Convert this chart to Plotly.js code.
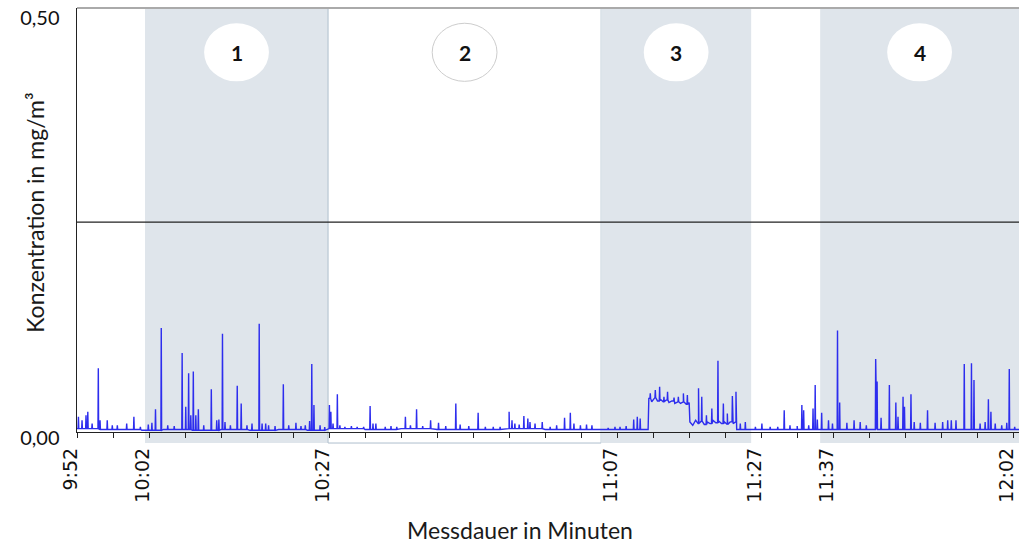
<!DOCTYPE html>
<html>
<head>
<meta charset="utf-8">
<script src="https://cdn.plot.ly/plotly-3.0.1.min.js"></script>
<style>html,body{margin:0;padding:0;background:#fff;}#chart{width:1019px;height:545px;}</style>
</head>
<body>
<div id="chart"></div>
<script>
// Minutes after 9:52 (Messdauer)
const tickTimes  = [0,5,10,15,20,25,30,35,40,45,50,55,60,65,70,75,80,85,90,95,100,105,110,115,120,125,130];
const tickLabels = ["9:52","","10:02","","","","","10:27","","","","","","","","11:07","","","","11:27","","11:37","","","","","12:02"];

// Phase boundaries (minutes) and labels
const phaseStart = [9.44, 34.86, 72.78, 103.19];
const phaseEnd   = [34.86, 72.78, 93.61, 130.8];
const phaseNames = ["1","2","3","4"];
const phaseShaded = [true, false, true, true];

// Baseline readings (minutes, mg/m3)
const baseT = [0,3,6,9,12,16,20,24,28,32,35,40,45,50,55,60,65,70,72.8,76,79.3,79.4,79.8,80.2,80.6,81.0,81.4,81.8,82.2,82.6,83.0,83.4,83.8,84.2,84.6,85.0,85.1,85.5,85.9,86.3,86.7,87.1,87.5,87.9,88.3,88.7,89.1,89.5,89.9,90.3,90.7,91.1,91.5,91.6,95,100,105,110,115,120,125,130.8];
const baseC = [0.004,0.003,0.003,0.002,0.003,0.002,0.003,0.002,0.003,0.002,0.004,0.003,0.004,0.003,0.003,0.004,0.003,0.003,0.003,0.003,0.003,0.040,0.036,0.041,0.037,0.039,0.036,0.038,0.035,0.037,0.034,0.036,0.034,0.036,0.033,0.035,0.012,0.008,0.014,0.010,0.013,0.009,0.012,0.010,0.014,0.011,0.013,0.010,0.012,0.009,0.012,0.010,0.012,0.003,0.003,0.003,0.003,0.003,0.003,0.003,0.003,0.003];

// Peaks per section
const peakT0 = [0.2,0.7,1.25,1.5,2.1,2.96,3.2,4.2,4.9,5.6,6.9,7.9,8.8];
const peakC0 = [0.018,0.014,0.020,0.024,0.010,0.076,0.014,0.014,0.008,0.008,0.010,0.018,0.006];

const peakT1 = [9.9,10.4,10.9,11.7,12.6,13.5,14.6,15.1,15.5,15.8,16.15,16.5,16.85,17.6,18.65,19.4,19.7,20.2,20.55,21.3,22.25,22.8,23.6,24.3,25.3,25.7,26.2,26.6,27.5,28.65,29.4,30.4,31.1,31.7,32.3,32.6,32.9,33.75,34.4];
const peakC1 = [0.009,0.011,0.027,0.124,0.008,0.007,0.094,0.030,0.070,0.020,0.072,0.020,0.027,0.008,0.051,0.014,0.015,0.117,0.012,0.008,0.055,0.034,0.008,0.010,0.129,0.010,0.010,0.008,0.007,0.057,0.008,0.011,0.007,0.008,0.013,0.081,0.032,0.008,0.006];

const peakT2 = [35.05,35.25,35.55,36.15,36.5,37.2,38.1,38.9,39.8,40.7,41.1,41.5,42.8,43.6,44.4,45.6,46.3,47.15,48.0,49.1,50.2,51.2,52.6,53.2,54.4,55.7,56.7,57.8,58.75,60.0,60.4,60.8,61.4,62.05,62.6,62.9,63.6,64.6,65.7,66.6,67.7,68.5,69.0,69.9,70.75,71.5];
const peakC2 = [0.032,0.024,0.010,0.045,0.008,0.006,0.007,0.006,0.006,0.031,0.010,0.010,0.006,0.007,0.006,0.018,0.008,0.027,0.007,0.014,0.011,0.007,0.034,0.009,0.007,0.023,0.006,0.006,0.006,0.024,0.014,0.010,0.009,0.019,0.016,0.012,0.010,0.012,0.006,0.008,0.017,0.023,0.010,0.008,0.009,0.008];

const peakT3 = [73.75,74.7,75.4,76.25,77.3,77.8,78.2,79.6,80.3,80.9,81.5,82.0,82.9,83.5,84.2,84.75,86.3,86.75,87.4,88.15,89.0,89.75,90.3,91.0,91.5,92.1,92.8];
const peakC3 = [0.005,0.006,0.006,0.007,0.015,0.018,0.016,0.046,0.050,0.054,0.042,0.048,0.041,0.042,0.046,0.044,0.052,0.042,0.020,0.028,0.085,0.034,0.022,0.043,0.048,0.010,0.012];

const peakTg = [94.2,95.1,96.25,97.3,98.2,99.0,100.0,100.65,100.9,101.6,102.2,102.5,102.8];
const peakCg = [0.006,0.010,0.006,0.006,0.026,0.008,0.007,0.032,0.026,0.008,0.028,0.056,0.015];

const peakT4 = [103.4,104.35,104.9,105.6,105.9,106.9,107.9,108.75,109.6,110.9,111.1,111.65,112.8,113.7,114.0,114.7,114.9,115.8,116.25,117.1,118.1,119.15,120.2,120.9,121.4,122.05,123.2,124.2,124.55,125.4,126.1,126.55,126.9,127.5,128.4,129.1,129.45,130.2];
const peakC4 = [0.023,0.014,0.010,0.121,0.035,0.011,0.014,0.012,0.008,0.087,0.060,0.017,0.056,0.035,0.018,0.042,0.030,0.045,0.012,0.011,0.026,0.011,0.012,0.014,0.014,0.014,0.081,0.082,0.062,0.010,0.012,0.039,0.024,0.010,0.008,0.011,0.075,0.006];

// Build polyline: baseline readings + each peak as a narrow up/down excursion
function baseAt(t){ let b = baseC[0]; for (let i=0;i<baseT.length;i++){ if (baseT[i] <= t) b = baseC[i]; } return b; }
const pts = baseT.map((t,i)=>[t, baseC[i]]);
const peakTs = [].concat(peakT0,peakT1,peakT2,peakT3,peakTg,peakT4);
const peakCs = [].concat(peakC0,peakC1,peakC2,peakC3,peakCg,peakC4);
const hw = 0.05;
peakTs.forEach((t,i)=>{ const b = baseAt(t); pts.push([t-hw,b],[t,peakCs[i]],[t+hw,b]); });
pts.sort((a,b)=>a[0]-b[0]);
const xs = pts.map(p=>p[0]), ys = pts.map(p=>p[1]);

const shapes = [];
for (let i=0;i<phaseStart.length;i++){
  if (phaseShaded[i]) {
    shapes.push({type:'rect', xref:'x', yref:'paper', x0:phaseStart[i], x1:phaseEnd[i], y0:-0.026, y1:1,
      fillcolor:'rgb(223,229,235)', line:{width:0}, layer:'below'});
  } else {
    shapes.push({type:'rect', xref:'x', yref:'paper', x0:phaseStart[i], x1:phaseEnd[i], y0:-0.026, y1:1,
      fillcolor:'rgba(0,0,0,0)', line:{color:'rgb(175,190,205)', width:1}, layer:'below'});
  }
}
// grid line at 0,25
shapes.push({type:'line', xref:'paper', yref:'y', x0:0, x1:1, y0:0.25, y1:0.25, line:{color:'#222', width:1.2}, layer:'below'});
// top border
shapes.push({type:'line', xref:'paper', yref:'paper', x0:0, x1:1, y0:1, y1:1, line:{color:'rgb(170,170,170)', width:2}});

const annotations = [];
for (let i=0;i<phaseStart.length;i++){
  const c = (phaseStart[i]+phaseEnd[i])/2;
  shapes.push({type:'circle', xref:'x', yref:'paper', x0:c-4.5, x1:c+4.5, y0:0.827, y1:0.964,
    fillcolor:'#ffffff', line:{color: phaseShaded[i] ? 'rgba(0,0,0,0)' : 'rgb(205,205,205)', width: phaseShaded[i]?0:1}, layer:'above'});
  annotations.push({x:c, y:0.8955, xref:'x', yref:'paper', text:'<b>'+phaseNames[i]+'</b>', showarrow:false,
    font:{family:'Lato, sans-serif', size:21, color:'#111'}, xanchor:'center', yanchor:'middle'});
}
annotations.push({x:-0.0446, y:0.517, xref:'paper', yref:'paper', text:'Konzentration in mg/m³', textangle:-90, showarrow:false,
  font:{family:'Lato, sans-serif', size:23, color:'#1a1a1a'}, xanchor:'center', yanchor:'middle'});
annotations.push({x:0.4703, y:-0.231, xref:'paper', yref:'paper', text:'Messdauer in Minuten', showarrow:false,
  font:{family:'Lato, sans-serif', size:23, color:'#1a1a1a'}, xanchor:'center', yanchor:'middle'});

const data = [{
  x: xs, y: ys, type:'scatter', mode:'lines',
  line:{color:'rgb(45,45,238)', width:1.4}, hoverinfo:'skip'
}];

const layout = {
  width:1019, height:545,
  margin:{l:77, r:0, t:8, b:113},
  paper_bgcolor:'#fff', plot_bgcolor:'rgba(0,0,0,0)',
  showlegend:false,
  xaxis:{range:[0,130.8], tickmode:'array', tickvals:tickTimes, ticktext:tickLabels, tickangle:-90,
    ticks:'outside', ticklen:5, tickcolor:'#222', showline:true, linecolor:'#222', linewidth:1.3,
    showgrid:false, zeroline:false, ticklabelstandoff:2, ticklabelshift:-6, ticklabeloverflow:'allow',
    tickfont:{family:'DejaVu Sans, sans-serif', size:19, color:'#111'}},
  yaxis:{range:[0,0.505], tickmode:'array', tickvals:[0,0.25,0.5], ticktext:['0,00','','0,50'],
    ticks:'', showline:true, linecolor:'#222', linewidth:1.5, showgrid:false, zeroline:false,
    ticklabelstandoff:12, ticklabelshift:6, ticklabeloverflow:'allow',
    tickfont:{family:'Lato, sans-serif', size:20, color:'#111'}},
  shapes: shapes,
  annotations: annotations
};
Plotly.newPlot('chart', data, layout, {displayModeBar:false, staticPlot:true});
</script>
</body>
</html>
